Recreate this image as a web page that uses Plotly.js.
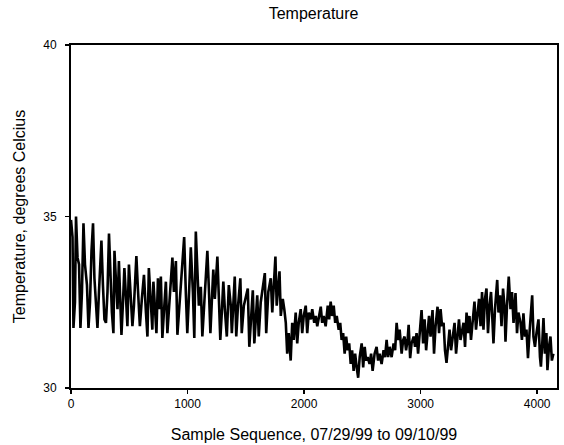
<!DOCTYPE html>
<html>
<head>
<meta charset="utf-8">
<script src="https://cdn.plot.ly/plotly-3.0.1.min.js"></script>
<style>html,body{margin:0;padding:0;background:#fff;}#chart{width:564px;height:445px;}</style>
</head>
<body>
<div id="chart"></div>
<script>
// Sample index of each read turning point (peaks, troughs, shoulders)
const sampleIndex = [
0,13,21,34,43,56,69,81,94,107,120,137,150,163,176,189,201,214,227,240,261,274,287,300,313,326,339,351,364,373,386,399,411,424,433,446,458,471,484,497,514,527,540,561,574,591,608,626,643,656,668,686,698,
707,720,733,746,758,771,784,797,814,827,840,870,883,900,913,930,947,971,986,998,1011,1028,1046,1058,1071,1084,1097,1114,1127,1144,1170,1183,1196,1208,1221,1234,1256,1268,1281,1294,1307,1320,1337,1354,1371,1380,1393,
1405,1418,1431,1453,1465,1483,1517,1530,1543,1560,1573,1590,1598,1611,1628,1663,1675,1693,1714,1727,1740,1754,1765,1789,1800,1817,1830,1843,1855,1868,1885,1898,1911,1928,1941,1954,1971,1984,1997,2014,2027,2040,2057,2070,2087,
2100,2113,2125,2143,2155,2168,2185,2203,2215,2228,2241,2254,2267,2280,2297,2310,2322,2335,2348,2361,2374,2387,2400,2412,2425,2438,2451,2464,2477,2494,2507,2520,2532,2545,2562,2575,2588,2605,2622,2635,2648,2665,2682,2695,2708,2721,2734,2751,2768,2781,2794,
2807,2820,2837,2850,2862,2875,2888,2897,2910,2922,2940,2952,2965,2978,2991,3008,3021,3034,3047,3059,3072,3085,3102,3115,3128,3145,3158,3171,3184,3197,3209,3222,3235,3248,3261,3274,3291,3304,3317,3329,3342,3355,3368,3381,3394,3407,3419,3432,3445,3462,3475,3488,3501,3514,
3527,3539,3552,3565,3578,3591,3604,3617,3625,3638,3657,3668,3681,3694,3707,3719,3728,3741,3756,3771,3784,3797,3814,3827,3839,3857,3869,3882,3895,3908,3921,3934,3957,3968,3981,3994,4011,4024,4032,4045,4054,4066,4079,4088,4101,4114,4126,4139
];
// Temperature (degrees Celcius) at those samples
const temperature = [
34.9,34.4,31.75,32.5,35.0,33.8,33.6,31.75,32.8,34.8,33.6,33.0,31.75,32.5,34.0,34.8,33.2,32.4,31.75,32.8,34.3,33.0,32.0,31.9,32.8,34.5,33.0,32.2,31.6,34.0,33.1,32.3,33.7,32.6,31.55,32.5,33.5,32.7,31.8,33.6,32.7,31.8,32.4,33.85,32.9,31.8,32.6,33.3,32.2,31.5,33.5,32.6,31.7,
33.1,32.4,31.6,33.2,32.3,33.25,31.46,32.2,33.1,31.6,32.3,33.8,32.8,33.7,31.55,32.4,33.0,34.4,32.7,31.6,32.6,34.1,32.8,31.46,34.56,33.2,32.4,32.95,31.5,32.5,34.0,32.9,31.6,32.5,33.45,32.6,33.83,32.7,31.4,32.2,33.1,32.3,31.5,33.0,32.4,31.6,32.6,
33.25,31.5,32.3,33.2,31.6,32.4,32.9,31.2,32.1,32.85,31.3,32.3,32.7,31.5,32.5,33.35,31.6,32.8,33.2,32.2,32.9,33.83,32.4,33.4,32.1,32.6,32.3,31.9,31.0,31.6,30.8,31.9,31.4,32.2,31.3,31.9,32.3,31.6,32.1,32.4,31.6,32.2,32.0,32.3,31.9,
32.1,31.8,32.0,32.37,31.9,32.1,31.8,32.4,32.0,32.52,32.1,32.4,31.9,32.1,31.7,31.9,31.4,31.6,31.0,31.5,31.1,31.3,30.7,31.1,30.5,31.0,30.6,30.3,30.9,31.3,30.6,31.2,30.8,30.9,30.7,31.0,30.5,31.0,31.2,30.8,31.0,30.7,31.1,30.9,31.4,30.9,31.2,30.9,31.3,31.1,31.9,
31.4,31.7,31.0,31.4,31.5,31.1,31.4,31.84,30.87,31.3,31.5,31.2,31.6,31.0,31.5,32.27,31.3,32.0,31.1,31.6,32.1,31.5,32.27,31.0,31.8,32.37,31.6,32.3,31.8,31.9,31.1,30.73,31.3,31.7,31.1,31.5,31.9,31.0,31.6,32.0,31.4,31.7,31.9,31.2,32.2,31.6,32.1,31.4,31.9,32.52,31.7,32.2,32.6,31.8,
32.8,31.7,32.6,32.9,31.6,32.4,32.8,31.9,31.3,32.3,33.15,32.2,32.7,31.8,32.9,32.4,31.35,32.4,33.25,32.3,32.8,31.9,32.77,31.6,32.2,31.9,31.4,32.18,31.5,31.7,30.87,31.6,32.7,31.5,31.2,31.6,32.0,30.9,30.62,31.4,32.04,31.0,31.6,30.52,31.2,31.5,30.8,31.0
];
const xTickVals = [0, 1000, 2000, 3000, 4000];
const yTickVals = [30, 35, 40];

const font = "Arial, 'Liberation Sans', sans-serif";
Plotly.newPlot('chart', [{
  x: sampleIndex,
  y: temperature,
  type: 'scatter',
  mode: 'lines',
  line: {color: '#000', width: 2.6},
  hoverinfo: 'skip'
}], {
  width: 564, height: 445,
  margin: {l: 71, r: 7, t: 45, b: 57, pad: 0},
  paper_bgcolor: '#fff', plot_bgcolor: '#fff',
  font: {family: font, size: 12, color: '#000'},
  showlegend: false,
  title: {text: 'Temperature', font: {family: font, size: 16, color: '#000'},
          x: 0.556, xanchor: 'center', y: 0.971, yanchor: 'middle'},
  xaxis: {
    range: [0, 4170], tickvals: xTickVals, ticktext: xTickVals.map(String),
    showgrid: false, zeroline: false, showline: true, mirror: true,
    linecolor: '#000', linewidth: 2, ticks: 'outside', ticklen: 4, tickwidth: 1.5, tickcolor: '#000',
    tickfont: {family: font, size: 12, color: '#000'},
    title: {text: 'Sample Sequence, 07/29/99 to 09/10/99', font: {family: font, size: 16, color: '#000'}, standoff: 18}
  },
  yaxis: {
    range: [30, 40], tickvals: yTickVals, ticktext: yTickVals.map(String),
    showgrid: false, zeroline: false, showline: true, mirror: true,
    linecolor: '#000', linewidth: 2, ticks: 'outside', ticklen: 4, tickwidth: 1.5, tickcolor: '#000',
    tickfont: {family: font, size: 12, color: '#000'}, ticklabelstandoff: 6,
    title: {text: 'Temperature, degrees Celcius', font: {family: font, size: 16, color: '#000'}, standoff: 14}
  }
}, {staticPlot: true, displayModeBar: false});
</script>
</body>
</html>
